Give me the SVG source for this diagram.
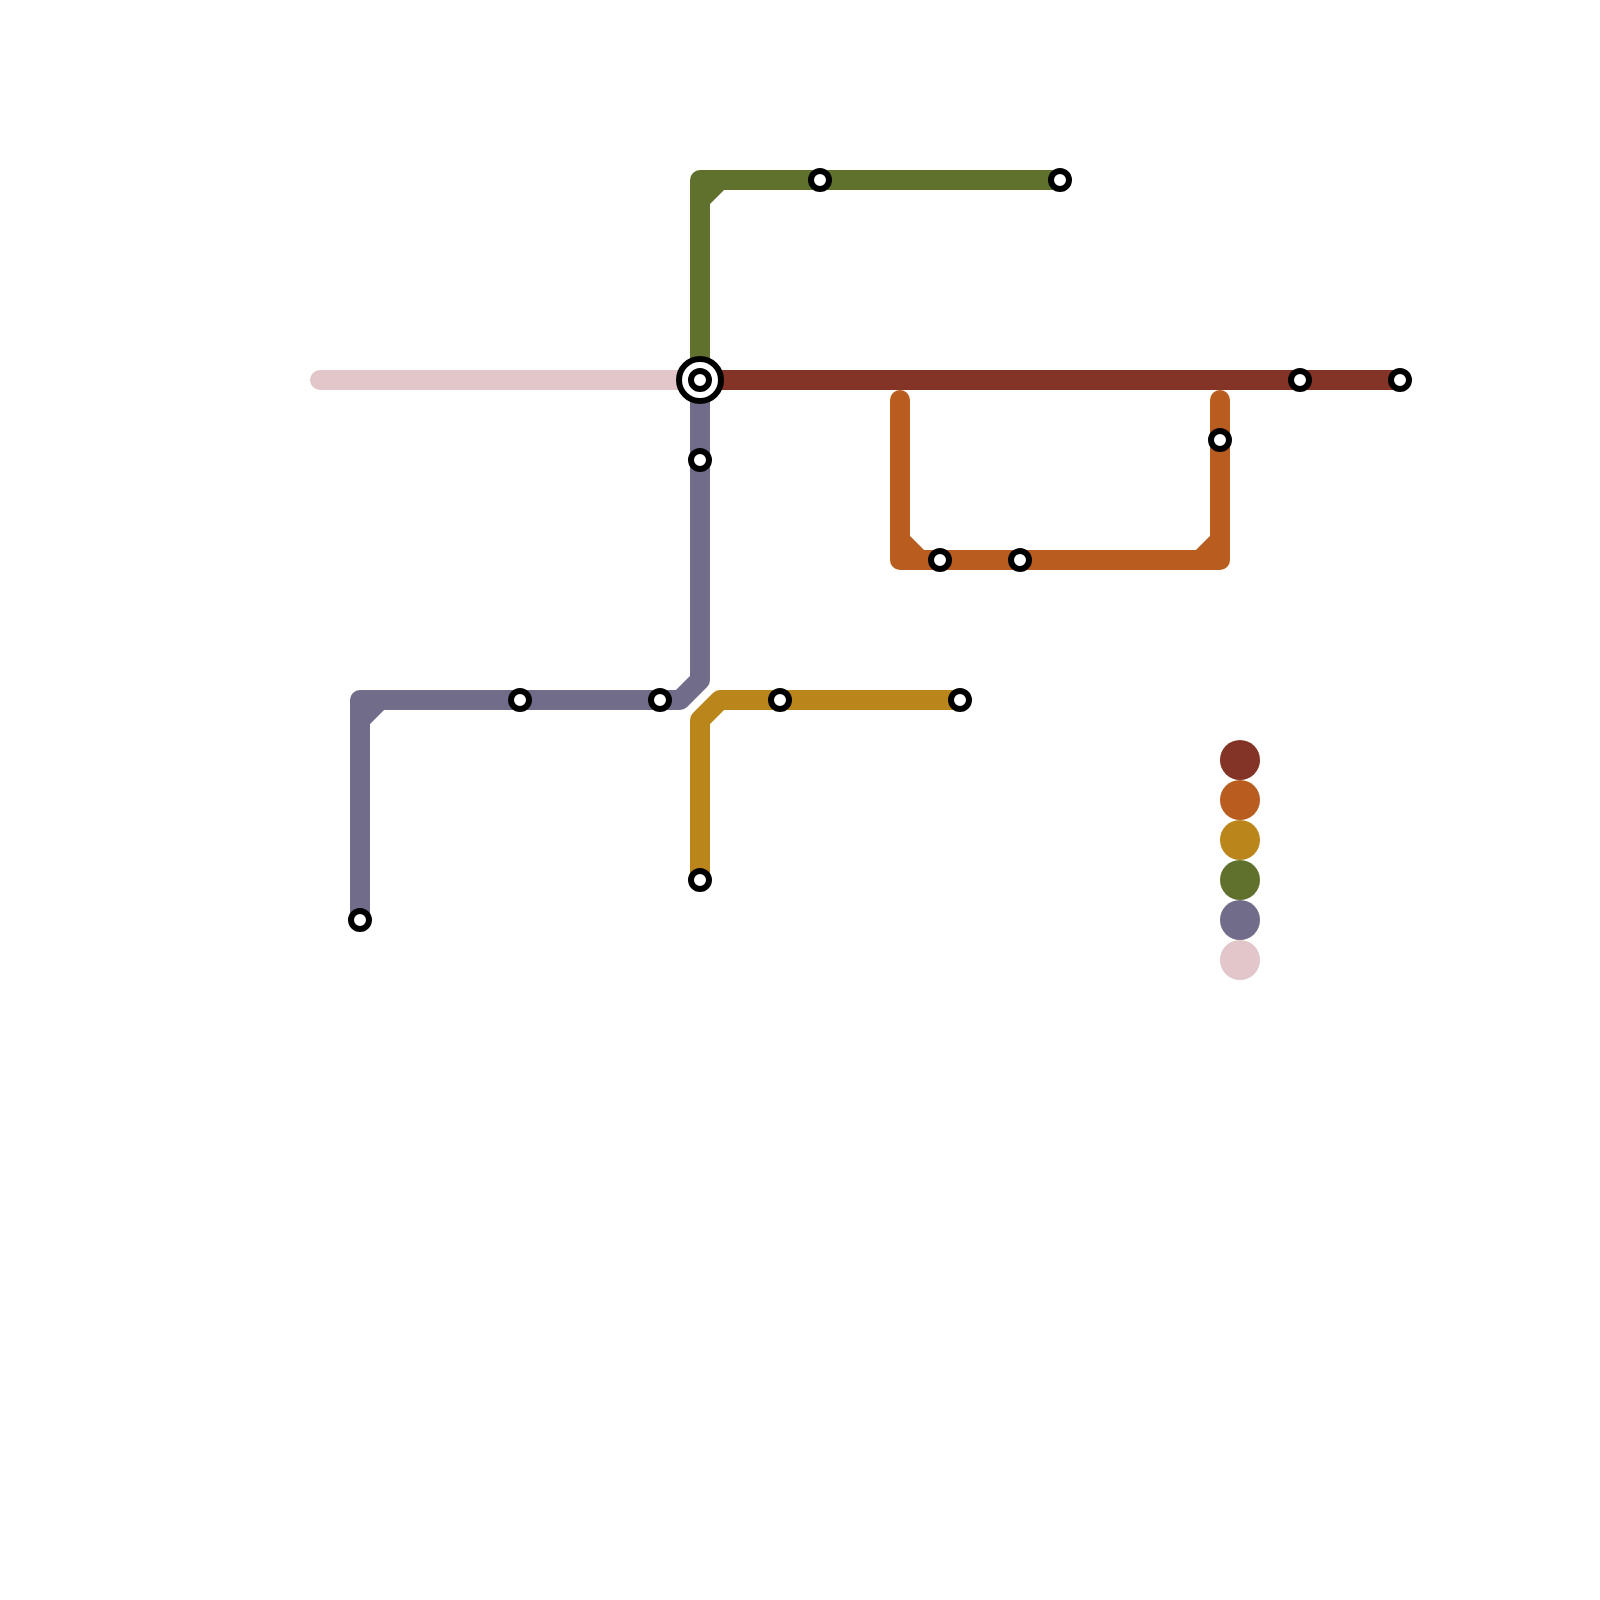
<svg xmlns="http://www.w3.org/2000/svg" width="1600" height="1600" viewBox="0 0 1600 1600">
<style>
.l{fill:none;stroke-width:20;stroke-linecap:round;stroke-linejoin:round}
.s{fill:#fff;stroke:#000;stroke-width:6}
.red{stroke:#843327}.ora{stroke:#B85C20}.gol{stroke:#BA861C}.gre{stroke:#60712D}.pur{stroke:#716C8A}.pin{stroke:#E3C6CA}
</style>
<rect width="1600" height="1600" fill="#fff"/>
<g id="connectors">
<path class="l pin" d="M700,380H320"/>
<path class="l pur" d="M700,380V680L680,700H360V920M360,720L380,700"/>
<path class="l gol" d="M960,700H720L700,720V880"/>
<path class="l gre" d="M700,380V180H1060M700,200L720,180"/>
<path class="l ora" d="M900,400V560H1220V400M900,540L920,560M1220,540L1200,560"/>
<path class="l red" d="M700,380H1400"/>
</g>
<g id="interchange"><circle class="s" cx="700" cy="380" r="21"/><circle class="s" cx="700" cy="380" r="9"/></g>
<g id="st-green-1"><circle class="s" cx="820" cy="180" r="9"/></g>
<g id="st-green-2"><circle class="s" cx="1060" cy="180" r="9"/></g>
<g id="st-red-1"><circle class="s" cx="1300" cy="380" r="9"/></g>
<g id="st-red-2"><circle class="s" cx="1400" cy="380" r="9"/></g>
<g id="st-orange-1"><circle class="s" cx="1220" cy="440" r="9"/></g>
<g id="st-orange-2"><circle class="s" cx="940" cy="560" r="9"/></g>
<g id="st-orange-3"><circle class="s" cx="1020" cy="560" r="9"/></g>
<g id="st-purple-1"><circle class="s" cx="700" cy="460" r="9"/></g>
<g id="st-purple-2"><circle class="s" cx="660" cy="700" r="9"/></g>
<g id="st-purple-3"><circle class="s" cx="520" cy="700" r="9"/></g>
<g id="st-purple-4"><circle class="s" cx="360" cy="920" r="9"/></g>
<g id="st-gold-1"><circle class="s" cx="780" cy="700" r="9"/></g>
<g id="st-gold-2"><circle class="s" cx="960" cy="700" r="9"/></g>
<g id="st-gold-3"><circle class="s" cx="700" cy="880" r="9"/></g>
<g id="legend-red"><circle cx="1240" cy="760" r="20" fill="#843327"/></g>
<g id="legend-orange"><circle cx="1240" cy="800" r="20" fill="#B85C20"/></g>
<g id="legend-gold"><circle cx="1240" cy="840" r="20" fill="#BA861C"/></g>
<g id="legend-green"><circle cx="1240" cy="880" r="20" fill="#60712D"/></g>
<g id="legend-purple"><circle cx="1240" cy="920" r="20" fill="#716C8A"/></g>
<g id="legend-pink"><circle cx="1240" cy="960" r="20" fill="#E3C6CA"/></g>
</svg>
